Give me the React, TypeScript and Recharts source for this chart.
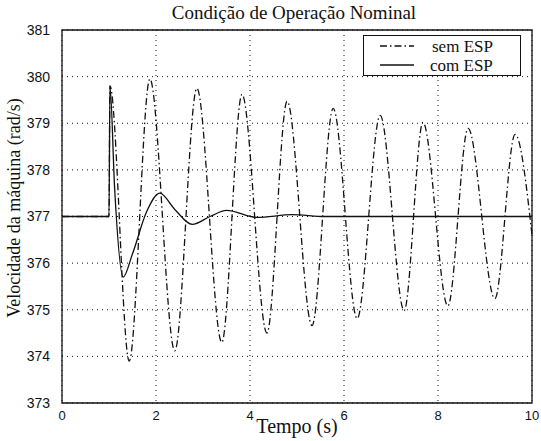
import React from "react";
import { LineChart, Line, XAxis, YAxis, CartesianGrid, ReferenceArea } from "recharts";

const semEspTime = [0, 1.0, 1.02, 1.43, 1.87, 2.4, 2.87, 3.4, 3.83, 4.36, 4.79, 5.32, 5.77, 6.28, 6.77, 7.28, 7.68, 8.21, 8.64, 9.21, 9.64, 10.0];
const semEspValue = [377, 377, 379.8, 373.9, 379.95, 374.12, 379.75, 374.3, 379.62, 374.5, 379.47, 374.66, 379.32, 374.81, 379.17, 374.98, 379.02, 375.08, 378.89, 375.24, 378.76, 376.6];

const comEspTime = [0, 1.0, 1.02, 1.12, 1.3, 1.5, 1.8, 2.08, 2.4, 2.77, 3.15, 3.5, 4.15, 4.9, 5.6, 10.0];
const comEspValue = [377, 377, 379.8, 377.6, 375.7, 376.2, 377.1, 377.5, 377.15, 376.83, 377.0, 377.13, 376.98, 377.04, 377.0, 377.0];

const xTicks = [0, 2, 4, 6, 8, 10];
const yTicks = [373, 374, 375, 376, 377, 378, 379, 380, 381];

const semData = semEspTime.map((t, i) => ({ t, v: semEspValue[i] }));
const comData = comEspTime.map((t, i) => ({ t, v: comEspValue[i] }));

const serif = '"Liberation Serif", "Times New Roman", serif';
const sans = '"Liberation Sans", Arial, sans-serif';
const ink = "#111";

function LegendBox() {
  const row = { display: "flex", alignItems: "center", height: 19 } as const;
  return (
    <div
      style={{
        position: "absolute",
        left: 363,
        top: 35,
        border: `1.5px solid ${ink}`,
        background: "#fff",
        width: 158,
        height: 41,
        boxSizing: "border-box",
        fontFamily: serif,
        fontSize: 17,
        color: ink,
        paddingTop: 0.5,
      }}
    >
      <div style={row}>
        <svg width={68} height={10}>
          <line x1={16} y1={5} x2={50} y2={5} stroke={ink} strokeWidth={1.3} strokeDasharray="7 3 1.5 3" />
        </svg>
        <div style={{ lineHeight: "19px", height: 19 }}>sem ESP</div>
      </div>
      <div style={row}>
        <svg width={66} height={10}>
          <line x1={16} y1={5} x2={50} y2={5} stroke={ink} strokeWidth={1.3} />
        </svg>
        <div style={{ lineHeight: "19px", height: 19 }}>com ESP</div>
      </div>
    </div>
  );
}

const YLabel = () => (
  <text
    x={14}
    y={208}
    transform="rotate(-90 14 208)"
    textAnchor="middle"
    dominantBaseline="central"
    fontFamily={serif}
    fontSize={18}
    fill={ink}
  >
    Velocidade da máquina (rad/s)
  </text>
);

export default function App() {
  return (
    <div style={{ position: "absolute", left: 0, top: 0, width: 541, height: 441, background: "#fff" }}>
      <div
        style={{
          position: "absolute",
          left: 0,
          width: 588,
          top: 1,
          textAlign: "center",
          fontFamily: serif,
          fontSize: 19,
          lineHeight: "24px",
          color: ink,
        }}
      >
        Condição de Operação Nominal
      </div>
      <LineChart width={541} height={441} margin={{ top: 30, right: 9, bottom: 8, left: 0 }}>
        <CartesianGrid stroke={ink} strokeDasharray="1 4" strokeWidth={1} />
        <XAxis
          dataKey="t"
          type="number"
          domain={[0, 10]}
          ticks={xTicks}
          height={30}
          allowDuplicatedCategory={false}
          tickLine={false}
          axisLine={false}
          tick={{ fontFamily: sans, fontSize: 13, fill: ink }}
          tickMargin={2}
          label={{ value: "Tempo (s)", position: "insideBottom", offset: 0, style: { fontFamily: serif, fontSize: 20, fill: ink } }}
        />
        <YAxis
          dataKey="v"
          type="number"
          domain={[373, 381]}
          ticks={yTicks}
          width={62}
          tickLine={false}
          axisLine={false}
          tick={{ fontFamily: sans, fontSize: 14, fill: ink }}
          tickMargin={6}
          label={{ content: () => <YLabel /> }}
        />
        <ReferenceArea x1={0} x2={10} y1={373} y2={381} fill="none" stroke={ink} strokeWidth={1.3} />
        <Line data={semData} dataKey="v" type="monotone" stroke={ink} strokeWidth={1.3} strokeDasharray="7 3 1.5 3" dot={false} isAnimationActive={false} name="sem ESP" />
        <Line data={comData} dataKey="v" type="monotone" stroke={ink} strokeWidth={1.3} dot={false} isAnimationActive={false} name="com ESP" />
      </LineChart>
      <LegendBox />
    </div>
  );
}
